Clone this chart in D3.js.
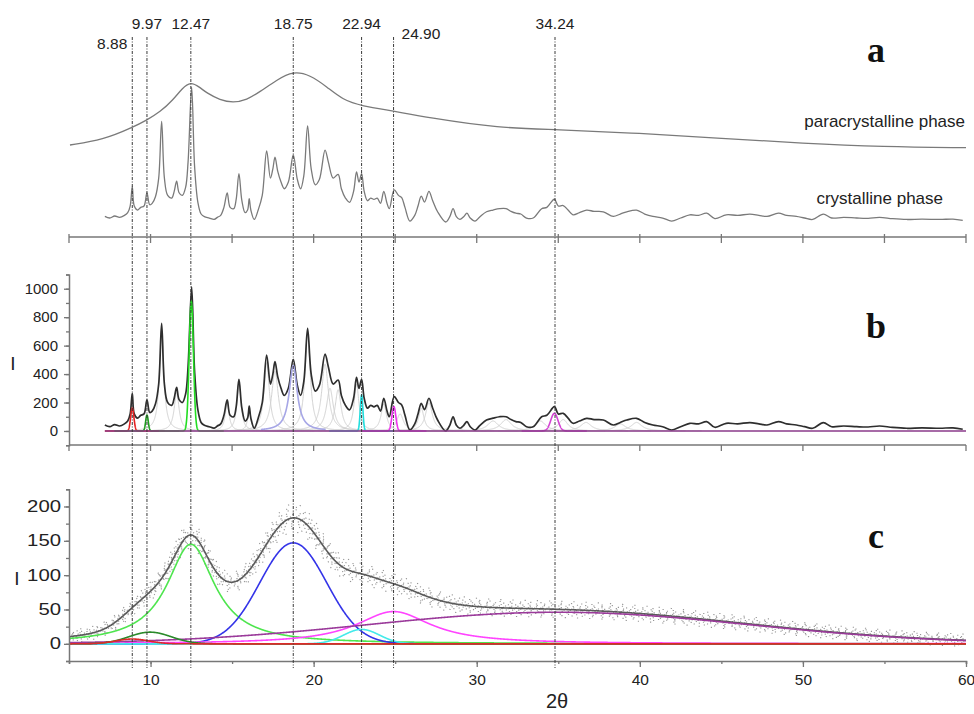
<!DOCTYPE html>
<html><head><meta charset="utf-8">
<script src="https://cdn.jsdelivr.net/npm/d3@7"></script>
<style>body{margin:0;background:#fff}svg{display:block}</style>
</head><body>
<svg id="chart" width="974" height="714"></svg>
<script>
// ---------- DATA ----------
// marker lines (position, label as printed)
const markerPos    = [8.88, 9.78, 12.47, 18.75, 22.94, 24.90, 34.80];
const markerLabels = ["8.88", "9.97", "12.47", "18.75", "22.94", "24.90", "34.24"];

// panel a: paracrystalline phase profile (arbitrary units)
const paraX = [5.06, 7.08, 8.92, 9.78, 10.58, 11.38, 11.95, 12.46, 13.0, 13.44, 14.26, 15.05, 15.9, 16.71, 17.73, 18.75, 19.78, 20.8, 21.8, 22.95, 24.87, 26.93, 31.43, 34.8, 40, 45, 50, 54.9, 60];
const paraY = [80, 85, 97.7, 105, 113, 125, 137, 143.3, 138, 132, 125, 122.3, 125, 133.3, 145, 154, 150, 138.3, 125, 119, 114, 107.7, 96.7, 95.7, 91.7, 86.7, 81.7, 78.3, 77.3];

// panel b: measured pattern (2θ, I)
const measX = [7.2,7.5,7.8,8.1,8.4,8.6,8.75,8.88,9.0,9.2,9.4,9.6,9.78,9.95,10.1,10.3,10.5,10.68,10.85,11.05,11.3,11.45,11.6,11.75,11.95,12.15,12.3,12.52,12.7,12.9,13.1,13.3,13.6,13.9,14.1,14.3,14.5,14.7,14.88,15.1,15.25,15.42,15.6,15.8,15.95,16.05,16.15,16.36,16.6,16.85,17.12,17.35,17.5,17.63,17.8,18.0,18.2,18.45,18.75,19.0,19.2,19.4,19.63,19.85,20.1,20.35,20.7,20.9,21.2,21.5,21.7,21.95,22.2,22.45,22.63,22.78,22.94,23.1,23.3,23.5,23.7,23.9,24.1,24.3,24.5,24.64,24.94,25.2,25.4,25.6,25.9,26.2,26.4,26.6,26.8,27.07,27.3,27.6,28.1,28.35,28.55,28.75,28.97,29.2,29.4,29.6,29.9,30.2,30.6,31.0,31.4,31.8,32.1,32.4,32.7,33.05,33.46,33.98,34.3,34.76,35.0,35.3,35.6,35.9,36.3,36.74,37.2,37.76,38.37,38.8,39.2,39.8,40.3,40.8,41.4,41.95,42.5,43.07,43.6,44.1,44.6,45.3,46.0,46.75,47.3,47.8,48.5,49.0,49.6,50.1,50.6,51.25,51.76,52.5,53.3,54.0,54.7,55.5,56.36,57.3,58.4,59.2,59.8];
const measI = [42,30,45,35,50,70,120,265,120,90,110,120,218,130,140,190,330,757,330,200,180,230,307,220,200,260,450,1014,420,150,60,40,30,20,35,50,110,218,110,100,170,363,160,70,90,175,90,19,90,200,534,330,400,487,380,300,250,300,504,320,250,350,722,400,280,320,541,452,330,358,250,180,148,230,377,300,363,230,160,180,170,180,140,230,140,100,241,200,183,110,7,50,120,194,150,230,160,77,0,40,100,40,19,40,66,30,7,40,77,90,100,100,80,66,60,30,30,100,110,171,120,124,90,54,70,89,80,77,42,60,77,89,60,42,30,7,30,54,50,66,26,54,50,59,50,42,66,50,42,30,19,59,30,35,30,28,35,25,19,22,19,22,12];

// panel b: grey fitted peaks (Lorentzian centre, height, half-width)
const bGreyC = [10.68, 11.6, 14.7, 15.42, 16.05, 17.12, 17.63, 19.63, 20.7, 21.0, 21.5, 22.63, 24.3, 25.3, 26.6, 27.07, 28.55, 29.4, 31.0, 31.8, 33.9, 35.3, 36.7, 38.8, 39.8];
const bGreyH = [720, 270, 190, 340, 150, 480, 420, 680, 470, 300, 290, 330, 190, 120, 160, 200, 90, 60, 70, 80, 70, 80, 60, 50, 60];
const bGreyW = [0.16, 0.18, 0.15, 0.15, 0.12, 0.2, 0.25, 0.2, 0.25, 0.25, 0.22, 0.18, 0.2, 0.25, 0.2, 0.25, 0.2, 0.2, 0.4, 0.4, 0.4, 0.35, 0.4, 0.4, 0.4];

// panel b: highlighted peaks (centre, height, width)
const bHiC = [8.88, 9.78, 12.5, 18.75, 22.94, 24.92, 34.76];
const bHiH = [160, 112, 909, 460, 253, 171, 124];
const bHiW = [0.1, 0.08, 0.13, 0.3, 0.08, 0.12, 0.22];
const bHiShape = ["G", "G", "G", "L", "G", "G", "G"];

// panel c: fitted components (centre, height, width)
const cC = [12.47, 18.75, 24.90, 35.0, 22.94, 9.97, 8.88];
const cH = [145, 147, 47, 46, 21, 17, 7];
const cW = [1.78, 2.05, 2.8, 11.7, 1.1, 1.3, 1.0];
const cShape = ["L", "G", "L", "G", "G", "G", "G"];

const xTicks = [10, 20, 30, 40, 50, 60];
const bTicks = [0, 200, 400, 600, 800, 1000];
const cTicks = [0, 50, 100, 150, 200];

// ---------- STYLE ----------
const bHiColor = ["#e52222", "#1e9b1e", "#22dd22", "#a6a6e6", "#22dede", "#ee33ee", "#d444d4"];
const cColor = ["#4ee54e", "#3434e8", "#ff44ff", "#9a3a9a", "#44eaea", "#2a8a2a", "#dd2a2a"];
const axisCol = "#777";
const FONT = "'Liberation Sans', Arial, sans-serif";

const svg = d3.select("#chart");
const x = d3.scaleLinear().domain([5, 60]).range([69, 966]);
const yA = d3.scaleLinear().domain([0, 1000]).range([222, 89]);      // crystalline in a
const yP = d3.scaleLinear().domain([0, 100]).range([225, 125]);      // paracrystalline in a
const yB = d3.scaleLinear().domain([-100, 1100]).range([445.2, 274.5]);
const yC = d3.scaleLinear().domain([-25, 225]).range([661, 489.3]);

const lor = (t, c, h, w) => h / (1 + ((t - c) / w) ** 2);
const gau = (t, c, h, s) => h * Math.exp(-((t - c) ** 2) / (2 * s * s));
const comp = (shape, t, c, h, w) => shape === "L" ? lor(t, c, h, w) : gau(t, c, h, w);

const gridFine = d3.range(5, 60.0001, 0.02);
const gridB = d3.range(7.2, 60.0001, 0.01);

// ---------- PANEL A ----------
const paraData = paraX.map((d, i) => [d, paraY[i]]);
svg.append("path").attr("d", d3.line().x(d => x(d[0])).y(d => yP(d[1])).curve(d3.curveBasis)(paraData))
  .attr("fill", "none").attr("stroke", "#7a7a7a").attr("stroke-width", 1.3);
const measData = measX.map((d, i) => [d, measI[i]]);
svg.append("path").attr("d", d3.line().x(d => x(d[0])).y(d => yA(d[1])).curve(d3.curveCatmullRom.alpha(0.5))(measData))
  .attr("fill", "none").attr("stroke", "#7a7a7a").attr("stroke-width", 1.3);

svg.append("text").attr("x", 965).attr("y", 127).attr("text-anchor", "end")
  .attr("font-family", FONT).attr("font-size", 17).attr("fill", "#222").text("paracrystalline phase");
svg.append("text").attr("x", 943).attr("y", 204).attr("text-anchor", "end")
  .attr("font-family", FONT).attr("font-size", 17).attr("fill", "#222").text("crystalline phase");

// axes between panels
function hAxis(yPos, tickUp, tickDown, vals) {
  const g = svg.append("g");
  g.append("line").attr("x1", x(5)).attr("x2", x(60)).attr("y1", yPos).attr("y2", yPos)
    .attr("stroke", axisCol).attr("stroke-width", 1.5);
  g.selectAll("line.t").data(vals).join("line").attr("class", "t")
    .attr("x1", d => x(d)).attr("x2", d => x(d)).attr("y1", yPos - tickUp).attr("y2", yPos + tickDown)
    .attr("stroke", axisCol).attr("stroke-width", 1.3);
}
hAxis(237, 3, 6, d3.range(5, 60.1, 5));
hAxis(445, 0, 6, d3.range(5, 60.1, 5));

// ---------- PANEL B ----------
const gB = svg.append("g");
bGreyC.forEach((c, i) => {
  const pts = gridB.filter(t => Math.abs(t - c) < 4).map(t => [t, lor(t, c, bGreyH[i], bGreyW[i])]);
  gB.append("path").attr("d", d3.line().x(d => x(d[0])).y(d => yB(d[1]))(pts))
    .attr("fill", "none").attr("stroke", "#d2d2d2").attr("stroke-width", 1);
});
gB.append("path").attr("d", d3.line().x(d => x(d[0])).y(d => yB(d[1])).curve(d3.curveCatmullRom.alpha(0.5))(measData))
  .attr("fill", "none").attr("stroke", "#2e2e2e").attr("stroke-width", 1.7);
bHiC.forEach((c, i) => {
  const pts = gridB.filter(t => Math.abs(t - c) < 2).map(t => [t, comp(bHiShape[i], t, c, bHiH[i], bHiW[i])]);
  gB.append("path").attr("d", d3.line().x(d => x(d[0])).y(d => yB(d[1]))(pts))
    .attr("fill", "none").attr("stroke", bHiColor[i]).attr("stroke-width", 1.6);
});
gB.append("line").attr("x1", x(7.2)).attr("x2", x(60)).attr("y1", yB(0)).attr("y2", yB(0))
  .attr("stroke", "#8a3a8a").attr("stroke-width", 1.4);

// y axis b
const axB = svg.append("g").attr("transform", `translate(${x(5)},0)`)
  .call(d3.axisLeft(yB).tickValues(d3.range(-100, 1101, 100)).tickSize(3).tickFormat(""));
const axBMaj = svg.append("g").attr("transform", `translate(${x(5)},0)`)
  .call(d3.axisLeft(yB).tickValues(bTicks).tickSize(5).tickPadding(6).tickFormat(d3.format("d")));
axBMaj.select(".domain").remove();
[axB, axBMaj].forEach(a => {
  a.selectAll("line").attr("stroke", axisCol).attr("stroke-width", 1.3);
  a.select(".domain").attr("stroke", axisCol).attr("stroke-width", 1.5);
});
axBMaj.selectAll("text").attr("font-family", FONT).attr("font-size", 15).attr("fill", "#222");

svg.append("text").attr("x", 13).attr("y", 370).attr("text-anchor", "middle")
  .attr("font-family", FONT).attr("font-size", 19).attr("fill", "#222").text("I");

// ---------- PANEL C ----------
const gC = svg.append("g");
const total = gridFine.map(t => [t, cC.reduce((s, c, i) => s + comp(cShape[i], t, c, cH[i], cW[i]), 0)]);
// scattered measurement cloud rendered as dotted strokes around the fit
const cloudOff = [-17, -13, -10, -7, -4, -1.5, 1.5, 4, 7, 10, 13, 17];
const cloudGap = [11, 9, 7, 6, 5, 5, 5, 5, 6, 7, 9, 11];
cloudOff.forEach((o, k) => {
  gC.append("path").attr("d", d3.line().x(d => x(d[0])).y(d => yC(d[1] + o * (0.5 + d[1] / 260)))(total))
    .attr("fill", "none").attr("stroke", "#969696").attr("stroke-width", 1.1)
    .attr("stroke-dasharray", `1.2 ${cloudGap[k]}`).attr("stroke-dashoffset", k * 2.3);
});
gC.append("path").attr("d", d3.line().x(d => x(d[0])).y(d => yC(d[1]))(total))
  .attr("fill", "none").attr("stroke", "#5a5a5a").attr("stroke-width", 1.6);
cC.forEach((c, i) => {
  const pts = gridFine.map(t => [t, comp(cShape[i], t, c, cH[i], cW[i])]);
  gC.append("path").attr("d", d3.line().x(d => x(d[0])).y(d => yC(d[1]))(pts))
    .attr("fill", "none").attr("stroke", cColor[i]).attr("stroke-width", 1.6);
});

// axes c
const axCy = svg.append("g").attr("transform", `translate(${x(5)},0)`)
  .call(d3.axisLeft(yC).tickValues(d3.range(-25, 226, 25)).tickSize(3).tickFormat(""));
const axCyMaj = svg.append("g").attr("transform", `translate(${x(5)},0)`)
  .call(d3.axisLeft(yC).tickValues(cTicks).tickSize(5).tickPadding(3));
axCyMaj.select(".domain").remove();
[axCy, axCyMaj].forEach(a => {
  a.selectAll("line").attr("stroke", axisCol).attr("stroke-width", 1.3);
  a.select(".domain").attr("stroke", axisCol).attr("stroke-width", 1.5);
});
axCyMaj.selectAll("text").attr("font-family", FONT).attr("font-size", 16).attr("fill", "#222")
  .each(function(d) { const n = String(d).length; d3.select(this).attr("textLength", n * 11.3).attr("lengthAdjust", "spacingAndGlyphs"); });

const axCx = svg.append("g").attr("transform", `translate(0,${yC(-25)})`)
  .call(d3.axisBottom(x).tickValues(d3.range(5, 60.1, 5)).tickSize(3).tickFormat(""));
const axCxMaj = svg.append("g").attr("transform", `translate(0,${yC(-25)})`)
  .call(d3.axisBottom(x).tickValues(xTicks).tickSize(6).tickPadding(7));
axCxMaj.select(".domain").remove();
[axCx, axCxMaj].forEach(a => {
  a.selectAll("line").attr("stroke", axisCol).attr("stroke-width", 1.3);
  a.select(".domain").attr("stroke", axisCol).attr("stroke-width", 1.5);
});
axCxMaj.selectAll("text").attr("font-family", FONT).attr("font-size", 15.5).attr("fill", "#222");

svg.append("text").attr("x", 17).attr("y", 585).attr("text-anchor", "middle")
  .attr("font-family", FONT).attr("font-size", 19).attr("fill", "#222").text("I");
svg.append("text").attr("x", 557).attr("y", 708).attr("text-anchor", "middle")
  .attr("font-family", FONT).attr("font-size", 20).attr("fill", "#222").text("2θ");

// ---------- MARKER LINES ----------
const gM = svg.append("g");
gM.selectAll("line").data(markerPos).join("line")
  .attr("x1", d => x(d)).attr("x2", d => x(d)).attr("y1", 37).attr("y2", 668)
  .attr("stroke", "#3a3a3a").attr("stroke-width", 1).attr("stroke-dasharray", "3 1.5 1 1.5");
const labAnchor = ["end", "middle", "middle", "middle", "middle", "start", "middle"];
const labDx = [-5, 0, 0, 0, 0, 8, 0];
const labY = [49, 29, 29, 29, 29, 39, 29];
gM.selectAll("text").data(markerPos).join("text")
  .attr("x", (d, i) => x(d) + labDx[i]).attr("y", (d, i) => labY[i])
  .attr("text-anchor", (d, i) => labAnchor[i])
  .attr("font-family", FONT).attr("font-size", 15.5).attr("fill", "#222")
  .text((d, i) => markerLabels[i]);

// ---------- PANEL LETTERS ----------
const letters = ["a", "b", "c"];
const letterY = [62, 338, 548];
svg.selectAll("text.lt").data(letters).join("text").attr("class", "lt")
  .attr("x", 876).attr("y", (d, i) => letterY[i]).attr("text-anchor", "middle")
  .attr("font-family", "'Liberation Serif', 'Times New Roman', serif").attr("font-weight", "bold")
  .attr("font-size", 36).attr("fill", "#111").text(d => d);
</script></body></html>
